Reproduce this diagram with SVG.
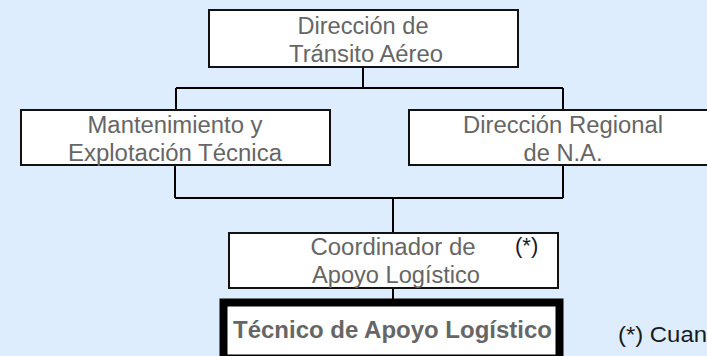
<svg xmlns="http://www.w3.org/2000/svg" width="707" height="356" viewBox="0 0 707 356">
<style>
.bg{fill:#deedfd}
.box{fill:#ffffff;stroke:#111111;stroke-width:2}
.thick{fill:#ffffff;stroke:#000000;stroke-width:8}
.t{font-family:"Liberation Sans",Arial,sans-serif;font-size:23.5px;fill:#666666;text-anchor:middle}
.b{font-family:"Liberation Sans",Arial,sans-serif;font-size:23.5px;font-weight:bold;fill:#666666;text-anchor:middle}
.n{font-family:"Liberation Sans",Arial,sans-serif;font-size:22px;fill:#1a1a1a}
.ln{fill:none;stroke:#000000;stroke-width:2}
</style>
<rect class="bg" x="0" y="0" width="707" height="356"/>
<g id="connectors">
<path class="ln" d="M363 67 V88 M176 88 H563 M176 88 V110 M563 88 V110"/>
<path class="ln" d="M175 165 V198 M563 165 V198 M175 198 H563 M393 198 V233"/>
<path class="ln" d="M393 288 V299"/>
</g>
<g id="direccion-transito">
<rect class="box" x="209" y="10" width="309" height="57"/>
<text class="t" x="363" y="34" textLength="131" lengthAdjust="spacingAndGlyphs">Dirección de</text>
<text class="t" x="366" y="62" textLength="154" lengthAdjust="spacingAndGlyphs">Tránsito Aéreo</text>
</g>
<g id="mantenimiento">
<rect class="box" x="21" y="110" width="309" height="55"/>
<text class="t" x="175" y="133" textLength="175" lengthAdjust="spacingAndGlyphs">Mantenimiento y</text>
<text class="t" x="175" y="161" textLength="214" lengthAdjust="spacingAndGlyphs">Explotación Técnica</text>
</g>
<g id="direccion-regional">
<rect class="box" x="409" y="110" width="310" height="55"/>
<text class="t" x="563" y="133" textLength="200" lengthAdjust="spacingAndGlyphs">Dirección Regional</text>
<text class="t" x="563" y="161" textLength="79" lengthAdjust="spacingAndGlyphs">de N.A.</text>
</g>
<g id="coordinador">
<rect class="box" x="229" y="233" width="329" height="55"/>
<text class="t" x="393" y="255" textLength="165" lengthAdjust="spacingAndGlyphs">Coordinador de</text>
<text class="t" x="396" y="283" textLength="168" lengthAdjust="spacingAndGlyphs">Apoyo Logístico</text>
<text class="n" x="515" y="253">(*)</text>
</g>
<g id="tecnico">
<rect class="thick" x="223.5" y="302.5" width="336" height="56"/>
<text class="b" x="392.5" y="338" textLength="319" lengthAdjust="spacingAndGlyphs">Técnico de Apoyo Logístico</text>
</g>
<g id="nota">
<text class="n" x="618" y="342" font-size="24" textLength="89" lengthAdjust="spacingAndGlyphs">(*) Cuan</text>
</g>
</svg>
